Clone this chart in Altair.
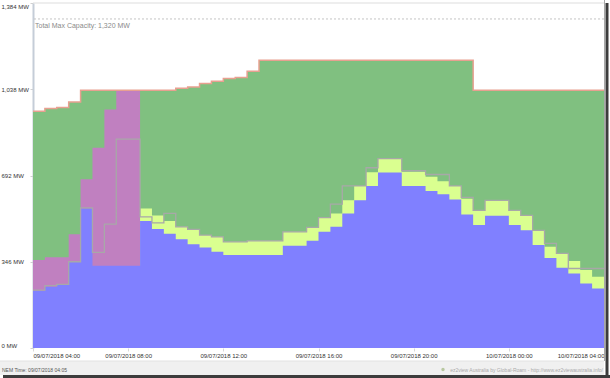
import altair as alt
import pandas as pd

# half-hourly intervals from 09/07/2018 04:00 to 10/07/2018 04:00 (48 steps + closing point)
times = pd.date_range("2018-07-09 04:00", periods=49, freq="30min")

# red line: max available capacity (MW)
avail = [950, 961, 965, 987, 1034, 1034, 1034, 1034, 1034, 1034, 1034, 1034,
         1042, 1047, 1061, 1070, 1081, 1085, 1110, 1154, 1154, 1154, 1154, 1154,
         1154, 1154, 1154, 1154, 1154, 1154, 1154, 1154, 1154, 1154, 1154, 1154,
         1154, 1034, 1034, 1034, 1034, 1034, 1034, 1034, 1034, 1034, 1034, 1034]

# pink band top (MW)
pink = [353, 364, 364, 456, 677, 803, 957, 1034, 1034, 0, 0, 0,
        0, 0, 0, 0, 0, 0, 0, 0, 0, 0, 0, 0,
        0, 0, 0, 0, 0, 0, 0, 0, 0, 0, 0, 0,
        0, 0, 0, 0, 0, 0, 0, 0, 0, 0, 0, 0]

# yellow-green band top (MW)
yellow = [0, 0, 0, 0, 0, 0, 0, 0, 0, 560, 532, 509,
          486, 476, 453, 446, 426, 426, 430, 430, 430, 466, 466, 484,
          523, 540, 593, 650, 705, 760, 760, 707, 707, 687, 669, 650,
          599, 552, 592, 592, 552, 532, 472, 406, 380, 349, 313, 286]

# blue band top (MW)
blue = [230, 246, 253, 346, 560, 330, 330, 330, 330, 509, 477, 458,
        436, 416, 403, 386, 373, 373, 373, 373, 373, 410, 410, 430,
        466, 486, 540, 593, 650, 704, 704, 650, 650, 630, 617, 596,
        536, 493, 531, 531, 493, 472, 413, 361, 322, 299, 259, 239]

# grey outline line (MW)
grey = [232, 250, 255, 346, 562, 384, 497, 838, 838, 526, 502, 540,
        486, 476, 453, 446, 426, 426, 430, 430, 430, 466, 466, 484,
        523, 577, 650, 650, 723, 760, 760, 711, 711, 696, 696, 650,
        604, 552, 592, 592, 552, 532, 472, 420, 380, 319, 319, 319]

y_ticks = [0, 346, 692, 1038, 1384]
total_max = 1320


def close(a):
    return list(a) + [a[-1]]


df = pd.DataFrame({
    "t": times,
    "avail": close(avail),
    "pink": close(pink),
    "yellow": close(yellow),
    "blue": close(blue),
    "grey": close(grey),
})
one = pd.DataFrame({"k": [0]})  # single row for annotations

FONT = "Liberation Sans"

x_ticks = [
    alt.DateTime(year=2018, month=7, date=9, hours=4),
    alt.DateTime(year=2018, month=7, date=9, hours=8),
    alt.DateTime(year=2018, month=7, date=9, hours=12),
    alt.DateTime(year=2018, month=7, date=9, hours=16),
    alt.DateTime(year=2018, month=7, date=9, hours=20),
    alt.DateTime(year=2018, month=7, date=10, hours=0),
    alt.DateTime(year=2018, month=7, date=10, hours=4),
]

x_enc = alt.X(
    "t:T",
    title=None,
    scale=alt.Scale(nice=False),
    axis=alt.Axis(
        values=x_ticks, format="%d/%m/%Y %H:%M", labelFlush=True,
        labelFontSize=6, labelFont=FONT, labelColor="#333333",
        tickSize=3, tickColor="#d8d8d8", labelPadding=1,
        domain=False, grid=False,
    ),
)

y_scale = alt.Scale(domain=[0, 1384], nice=False, zero=True)
y_axis = alt.Axis(
    values=y_ticks, labelExpr="format(datum.value, ',') + ' MW'",
    labelAlign="left", labelPadding=29, tickSize=3, tickColor="#d0d0d0",
    labelFlush=True, labelFontSize=6, labelFont=FONT, labelColor="#333333",
    domainColor="#c5cdd8", domainWidth=2, grid=False,
)

base = alt.Chart(df)

green_area = base.mark_area(interpolate="step-after", color="#80c080").encode(
    x=x_enc, y=alt.Y("avail:Q", scale=y_scale, axis=y_axis, title=None))
pink_area = base.mark_area(interpolate="step-after", color="#c080c0").encode(
    x=x_enc, y=alt.Y("pink:Q", scale=y_scale, axis=y_axis, title=None))
yellow_area = base.mark_area(interpolate="step-after", color="#daff90").encode(
    x=x_enc, y=alt.Y("yellow:Q", scale=y_scale, axis=y_axis, title=None))
blue_area = base.mark_area(interpolate="step-after", color="#8080ff").encode(
    x=x_enc, y=alt.Y("blue:Q", scale=y_scale, axis=y_axis, title=None))
grey_line = base.mark_line(interpolate="step-after", color="#a8a8a8", strokeWidth=1.3).encode(
    x=x_enc, y=alt.Y("grey:Q", scale=y_scale, axis=y_axis, title=None))
red_line = base.mark_line(interpolate="step-after", color="#e8a090", strokeWidth=1.5).encode(
    x=x_enc, y=alt.Y("avail:Q", scale=y_scale, axis=y_axis, title=None))

ann = alt.Chart(one)

top_rule = ann.mark_rule(color="#dddddd", strokeWidth=1).encode(
    y=alt.datum(1384))
cap_rule = ann.mark_rule(color="#c4c4c4", strokeDash=[2, 2], strokeWidth=1).encode(
    y=alt.datum(total_max))
cap_text = ann.mark_text(
    align="left", baseline="top", dx=2, dy=3, fontSize=7, font=FONT,
    fontWeight="normal", color="#8a8a8a"
).encode(x=alt.value(0), y=alt.datum(total_max),
         text=alt.value("Total Max Capacity: 1,320 MW"))

right_border = ann.mark_rule(color="#a8a8a8", strokeWidth=1).encode(
    x=alt.value(571.5), y=alt.value(-3), y2=alt.value(358))
footer_band = ann.mark_rect(color="#f0f0f0").encode(
    x=alt.value(-33), x2=alt.value(571), y=alt.value(358), y2=alt.value(372))
footer_line = ann.mark_rule(color="#e2e2e2", strokeWidth=1).encode(
    x=alt.value(-33), x2=alt.value(571), y=alt.value(358))
nem_text = ann.mark_text(
    align="left", baseline="middle", fontSize=5, font=FONT,
    fontWeight="normal", color="#555555"
).encode(x=alt.value(-31), y=alt.value(366.5), text=alt.value("NEM Time: 09/07/2018 04:05"))
credit_icon = ann.mark_point(
    shape="circle", filled=True, size=12, color="#b8c8a0", opacity=1
).encode(x=alt.value(410), y=alt.value(366.5))
credit_text = ann.mark_text(
    align="right", baseline="middle", fontSize=5, font=FONT,
    fontWeight="normal", color="#aaaaaa"
).encode(x=alt.value(570), y=alt.value(366.5),
         text=alt.value("ez2view Australia by Global-Roam - http://www.ez2viewaustralia.info/"))
frame_right = ann.mark_rule(color="#3c3c3c", strokeWidth=3).encode(
    x=alt.value(574), y=alt.value(0), y2=alt.value(375))
frame_bottom = ann.mark_rule(color="#3c3c3c", strokeWidth=3).encode(
    x=alt.value(-30), x2=alt.value(577), y=alt.value(373.5))

chart = alt.layer(
    green_area, pink_area, yellow_area, blue_area, grey_line, red_line,
    top_rule, cap_rule, cap_text, right_border,
    footer_band, footer_line, nem_text, credit_icon, credit_text, frame_right, frame_bottom,
).properties(
    width=571, height=345,
    padding={"left": 33, "top": 3, "right": 6, "bottom": 30},
    autosize=alt.AutoSizeParams(type="none"),
    background="white",
).configure_view(strokeWidth=0)

chart.save("out.html", embed_options={"renderer": "svg", "actions": False})
